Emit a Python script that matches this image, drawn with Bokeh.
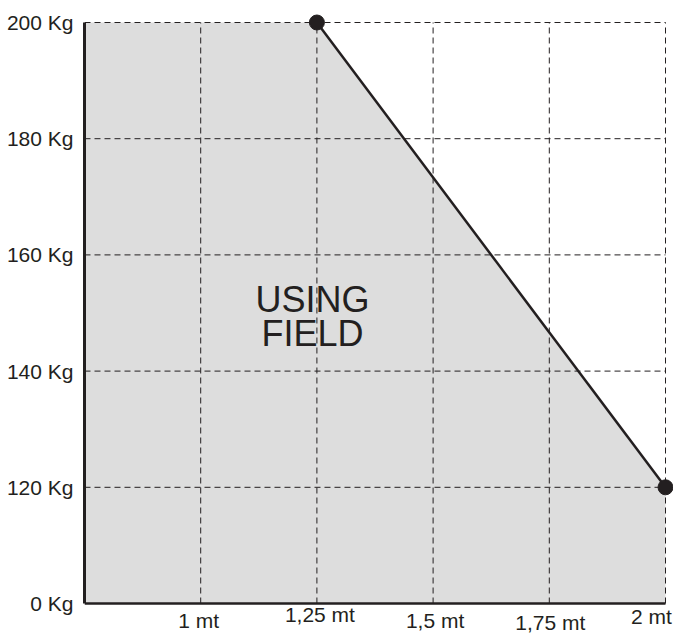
from bokeh.plotting import figure
from bokeh.models import Range1d, FixedTicker, Label, LinearAxis
from bokeh.embed import file_html
from bokeh.resources import INLINE

# ---- data ----
x_ticks = [1, 1.25, 1.5, 1.75, 2]
x_labels = ["1 mt", "1,25 mt", "1,5 mt", "1,75 mt", "2 mt"]
x_start = 0.75
y_values = [0, 120, 140, 160, 180, 200]
y_labels = ["0 Kg", "120 Kg", "140 Kg", "160 Kg", "180 Kg", "200 Kg"]
limit_length = [1.25, 2]
limit_weight = [200, 120]
area_text = ["USING", "FIELD"]

# ---- styling / layout (canvas pixels) ----
INK = "#231f20"
FILL = "#dddddd"
FONT = "Liberation Sans"
FS = "21px"

W, H = 673, 635
LEFT, TOP = 84, 12
X_END_PX = 665     # canvas px of last length tick
Y0_PX = 603        # canvas px of the 0 weight line
YTOP_PX = 22       # canvas px of the top weight line


def ypos(v):
    return y_values.index(v)


x_end = x_ticks[-1]
y_top = len(y_values) - 1
px_x = (X_END_PX - LEFT) / (x_end - x_start)
px_y = (Y0_PX - YTOP_PX) / y_top

p = figure(width=W, height=H, output_backend="svg", toolbar_location=None,
           x_range=Range1d(x_start, x_end + (W - X_END_PX) / px_x),
           y_range=Range1d(-(H - Y0_PX) / px_y, y_top + (YTOP_PX - TOP) / px_y),
           x_axis_location=None,
           min_border_left=LEFT, min_border_right=0,
           min_border_top=TOP, min_border_bottom=0)
p.outline_line_color = None
p.background_fill_color = "white"
p.xgrid.visible = False
p.ygrid.visible = False

# y axis
p.yaxis.ticker = FixedTicker(ticks=list(range(len(y_values))))
p.yaxis.major_label_overrides = {i: lab for i, lab in enumerate(y_labels)}
p.yaxis.bounds = (0, y_top)
p.yaxis.axis_line_width = 3
p.yaxis.axis_line_color = INK
p.yaxis.major_tick_line_color = None
p.yaxis.minor_tick_line_color = None
p.yaxis.major_tick_out = 0
p.yaxis.major_tick_in = 0
p.yaxis.minor_tick_out = 0
p.yaxis.major_label_standoff = 11
p.yaxis.major_label_text_font = FONT
p.yaxis.major_label_text_font_size = FS
p.yaxis.major_label_text_color = INK

# x axis drawn at weight 0
xax = LinearAxis(fixed_location=0, ticker=FixedTicker(ticks=[]), bounds=(x_start, x_end),
                 axis_line_width=2.5, axis_line_color=INK,
                 major_tick_line_color=None, minor_tick_line_color=None,
                 major_tick_out=0, major_tick_in=0,
                 major_label_text_font_size="0px")
p.add_layout(xax, "below")

# filled usable area
fx = [x_start, x_start] + limit_length + [limit_length[-1]]
fy = [0, ypos(y_values[-1])] + [ypos(w) for w in limit_weight] + [0]
p.patch(fx, fy, fill_color=FILL, line_color=None)

# dashed grid
p.segment(x0=x_ticks, y0=[0] * len(x_ticks), x1=x_ticks, y1=[y_top] * len(x_ticks),
          line_color=INK, line_width=1, line_dash="6 4")
yg = list(range(1, len(y_values)))
p.segment(x0=[x_start] * len(yg), y0=yg, x1=[x_end] * len(yg), y1=yg,
          line_color=INK, line_width=1, line_dash="6 4")

# limit line + points
ly = [ypos(w) for w in limit_weight]
p.line(limit_length, ly, line_color=INK, line_width=2.5)
p.scatter(limit_length, ly, size=15, fill_color=INK, line_color=INK)

# x tick labels (hand-placed like the original)
x_off = [-2, 3, 2, 1, -14]
y_off = [-17, -11, -17, -19, -13]
for t, lab, dx, dy in zip(x_ticks, x_labels, x_off, y_off):
    p.add_layout(Label(x=t, y=0, text=lab, x_offset=dx, y_offset=dy,
                       text_align="center", text_baseline="middle",
                       text_font=FONT, text_font_size=FS, text_color=INK))

# area caption
for i, txt in enumerate(area_text):
    p.add_layout(Label(x=limit_length[0], y=2.47, text=txt, x_offset=-4.5, y_offset=17 - 34 * i,
                       text_align="center", text_baseline="middle",
                       text_font=FONT, text_font_size="36px", text_color=INK))

open("out.html", "w").write(file_html(p, INLINE))
